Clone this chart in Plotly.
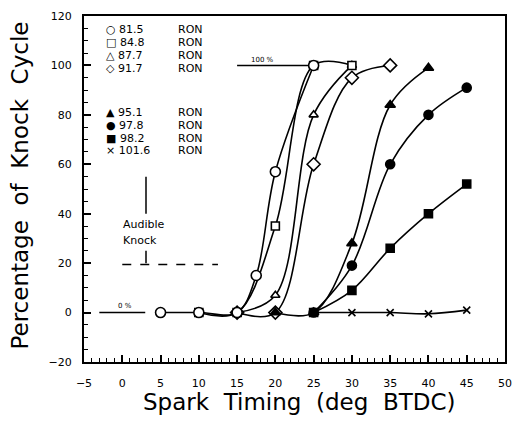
import plotly.graph_objects as go

# ---- data ----
x_815 = [5, 10, 15, 17.5, 20, 25]
y_815 = [0, 0, 0, 15, 57, 100]
x_848 = [10, 15, 20, 25, 30]
y_848 = [0, 0, 35, 100, 100]
x_877 = [15, 20, 25, 30]
y_877 = [0, 7, 80, 100]
x_917 = [15, 20, 25, 30, 35]
y_917 = [0, 0, 60, 95, 100]
x_951 = [20, 25, 30, 35, 40]
y_951 = [0, 0, 28, 84, 99]
x_978 = [25, 30, 35, 40, 45]
y_978 = [0, 19, 60, 80, 91]
x_982 = [25, 30, 35, 40, 45]
y_982 = [0, 9, 26, 40, 52]
x_1016 = [25, 30, 35, 40, 45]
y_1016 = [0, 0, 0, -0.5, 1]

ron_labels = ["81.5", "84.8", "87.7", "91.7", "95.1", "97.8", "98.2", "101.6"]
ron_glyphs = ["○", "□", "△", "◇", "▲", "●", "■", "×"]

x_ticks = [-5, 0, 5, 10, 15, 20, 25, 30, 35, 40, 45, 50]
y_ticks = [-20, 0, 20, 40, 60, 80, 100, 120]

# (x, y, symbol, size, fill)
series = {
    "81.5": (x_815, y_815, "circle", 10, "white"),
    "84.8": (x_848, y_848, "square", 8, "white"),
    "87.7": (x_877, y_877, "triangle-up", 8, "white"),
    "91.7": (x_917, y_917, "diamond", 10, "white"),
    "95.1": (x_951, y_951, "triangle-up", 9, "black"),
    "97.8": (x_978, y_978, "circle", 9, "black"),
    "98.2": (x_982, y_982, "square", 8, "black"),
    "101.6": (x_1016, y_1016, "x-thin-open", 7, "black"),
}
draw_order = ["91.7", "87.7", "84.8", "81.5", "101.6", "97.8", "95.1", "98.2"]

fig = go.Figure()
for lab in draw_order:
    xs, ys, sym, sz, fill = series[lab]
    fig.add_trace(go.Scatter(
        x=xs, y=ys, mode="lines+markers", name=lab + " RON",
        line=dict(color="black", width=1.6, shape="spline", smoothing=1.0),
        marker=dict(symbol=sym, size=sz, color=fill,
                    line=dict(color="black", width=1.6)),
        showlegend=False, cliponaxis=False))

font_tick = dict(family="DejaVu Sans", size=11, color="black")
font_title = dict(family="DejaVu Sans", size=23, color="black")

fig.update_layout(
    width=522, height=422,
    margin=dict(l=84, r=16, t=10, b=60),
    paper_bgcolor="white", plot_bgcolor="white",
    xaxis=dict(range=[-5, 50], tickvals=x_ticks, ticks="inside", ticklen=7,
               tickwidth=1.5, tickcolor="black", showline=True, linecolor="black",
               linewidth=2, mirror=True, showgrid=False, zeroline=False,
               tickfont=font_tick, ticklabelstandoff=10,
               minor=dict(dtick=1, ticks="inside", ticklen=4, tickcolor="black",
                          tickwidth=1, showgrid=False)),
    yaxis=dict(range=[-20, 120], tickvals=y_ticks, ticks="inside", ticklen=7,
               tickwidth=1.5, tickcolor="black", showline=True, linecolor="black",
               linewidth=2, mirror=True, showgrid=False, zeroline=False,
               tickfont=font_tick, ticklabelstandoff=8,
               minor=dict(dtick=5, ticks="inside", ticklen=4, tickcolor="black",
                          tickwidth=1, showgrid=False)),
)

# axis titles
fig.add_annotation(text="Spark  Timing  (deg  BTDC)", xref="paper", yref="paper",
                   x=0.512, y=-0.117, showarrow=False, font=font_title,
                   xanchor="center", yanchor="middle")
fig.add_annotation(text="Percentage  of  Knock  Cycle", xref="paper", yref="paper",
                   x=-0.152, y=0.51, showarrow=False, font=font_title, textangle=-90,
                   xanchor="center", yanchor="middle")

# legend block as text
row_y = [114.5, 109.3, 104, 98.7, 80.8, 75.8, 70.6, 65.6]
font_leg = dict(family="DejaVu Sans", size=11, color="black")
for g, lab, yy in zip(ron_glyphs, ron_labels, row_y):
    fig.add_annotation(text=g + " " + lab, x=-2.4, y=yy, showarrow=False,
                       xanchor="left", yanchor="middle", font=font_leg)
    fig.add_annotation(text="RON", x=7.0, y=yy, showarrow=False,
                       xanchor="left", yanchor="middle", font=font_leg)

# 100 % and 0 % reference lines
fig.add_shape(type="line", x0=15, x1=25, y0=100, y1=100, line=dict(color="black", width=1.5),
              layer="below")
fig.add_annotation(text="100 %", x=18.3, y=102.3, showarrow=False,
                   font=dict(family="DejaVu Sans", size=7, color="black"))
fig.add_shape(type="line", x0=-3, x1=3, y0=0, y1=0, line=dict(color="black", width=1.5))
fig.add_annotation(text="0 %", x=0.3, y=2.5, showarrow=False,
                   font=dict(family="DejaVu Sans", size=7, color="black"))

# audible knock
fig.add_shape(type="line", x0=3.1, x1=3.1, y0=40, y1=55, line=dict(color="black", width=1.5))
fig.add_shape(type="line", x0=3.1, x1=3.1, y0=20, y1=25, line=dict(color="black", width=1.5))
fig.add_shape(type="line", x0=0, x1=12.5, y0=19.5, y1=19.5,
              line=dict(color="black", width=1.5, dash="dash"))
fig.add_annotation(text="Audible", x=-0.2, y=35.5, showarrow=False, xanchor="left",
                   font=dict(family="DejaVu Sans", size=11, color="black"))
fig.add_annotation(text="Knock", x=-0.2, y=29.2, showarrow=False, xanchor="left",
                   font=dict(family="DejaVu Sans", size=11, color="black"))

fig.write_html("out.html")
